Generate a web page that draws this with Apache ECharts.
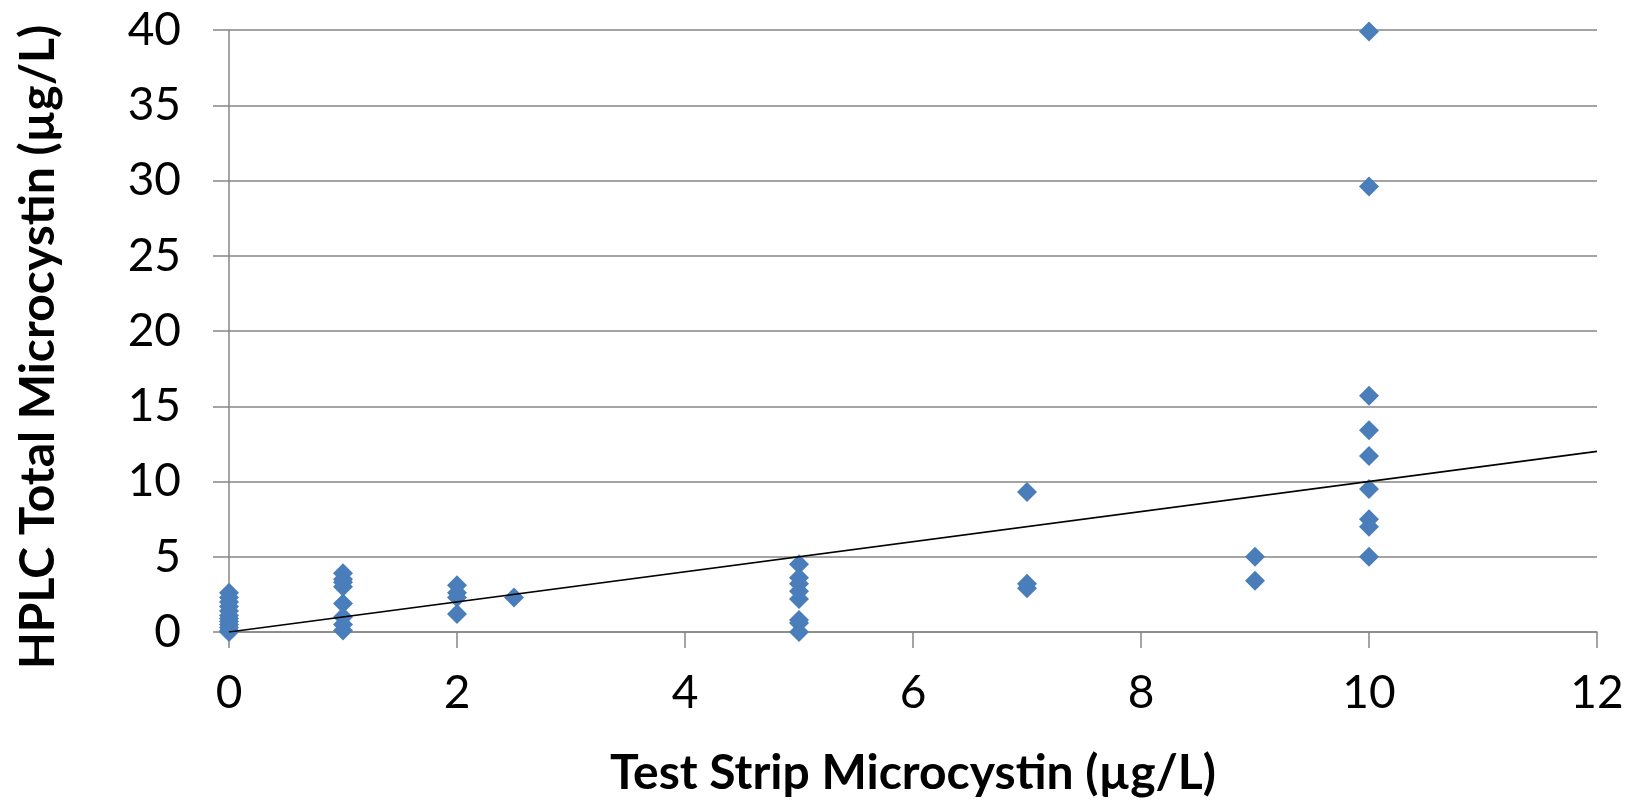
<!DOCTYPE html>
<html>
<head>
<meta charset="utf-8">
<script src="https://cdn.jsdelivr.net/npm/echarts@6/dist/echarts.min.js"></script>
<style>
  html, body { margin: 0; padding: 0; background: #fff; }
  #chart { width: 1637px; height: 803px; }
</style>
</head>
<body>
<div id="chart"></div>
<script>
// test strip reading (x) and HPLC total microcystin (y), one entry per sample
let stripValues = [
  0, 0, 0, 0, 0, 0, 0, 0, 0, 0, 0, 0,
  1, 1, 1, 1, 1, 1, 1, 1,
  2, 2, 2, 2,
  2.5,
  5, 5, 5, 5, 5, 5, 5, 5,
  7, 7, 7,
  9, 9,
  10, 10, 10, 10, 10, 10, 10, 10, 10
];
let hplcValues = [
  0, 0.1, 0.3, 0.5, 0.7, 0.9, 1.1, 1.4, 1.7, 2.0, 2.3, 2.6,
  0.1, 0.5, 1.0, 1.9, 3.0, 3.3, 3.5, 3.9,
  1.2, 2.3, 2.6, 3.1,
  2.3,
  0, 0.6, 0.8, 2.2, 2.7, 3.2, 3.6, 4.5,
  2.9, 3.2, 9.3,
  3.4, 5.0,
  5.0, 7.0, 7.5, 9.5, 11.7, 13.4, 15.7, 29.6, 39.9
];
// 1:1 reference line
let lineX = [0, 12];
let lineY = [0, 12];

let FONT = 'Lato';
let GRID_COLOR = '#868686';

let points = stripValues.map((x, i) => [x, hplcValues[i]]);
let linePoints = lineX.map((x, i) => [x, lineY[i]]);

let option = {
  animation: false,
  backgroundColor: '#fff',
  grid: {left: 229, right: 40, top: 30, bottom: 168, containLabel: false},
  xAxis: {
    type: 'value', min: 0, max: 12, interval: 2,
    name: 'Test Strip Microcystin (µg/L)',
    nameLocation: 'middle', nameGap: 118,
    nameTextStyle: {fontFamily: FONT, fontWeight: 'bold', fontSize: 48, color: '#000'},
    axisLine: {show: true, onZero: false, lineStyle: {color: GRID_COLOR, width: 1.5}},
    axisTick: {show: true, inside: false, length: 16, lineStyle: {color: GRID_COLOR, width: 1.5}},
    axisLabel: {fontFamily: FONT, fontSize: 46, color: '#000', margin: 38},
    splitLine: {show: false}
  },
  yAxis: {
    type: 'value', min: 0, max: 40, interval: 5,
    name: 'HPLC Total Microcystin (µg/L)',
    nameLocation: 'middle', nameGap: 166,
    // right padding nudges the rotated title a bit lower, as in the original
    nameTextStyle: {fontFamily: FONT, fontWeight: 'bold', fontSize: 48, color: '#000', padding: [0, 32, 0, 0]},
    axisLine: {show: true, lineStyle: {color: GRID_COLOR, width: 1.5}},
    axisTick: {show: true, inside: false, length: 16, lineStyle: {color: GRID_COLOR, width: 1.5}},
    axisLabel: {fontFamily: FONT, fontSize: 46, color: '#000', margin: 48},
    splitLine: {show: true, lineStyle: {color: GRID_COLOR, width: 1.5}}
  },
  series: [
    {
      type: 'scatter',
      data: points,
      symbol: 'diamond',
      symbolSize: 20,
      itemStyle: {color: '#4A7EBB', opacity: 1},
      z: 3
    },
    {
      type: 'line',
      data: linePoints,
      symbol: 'none',
      lineStyle: {color: '#000', width: 1.6},
      z: 4
    }
  ]
};

let myChart = echarts.init(document.getElementById('chart'));
myChart.setOption(option);
</script>
</body>
</html>
